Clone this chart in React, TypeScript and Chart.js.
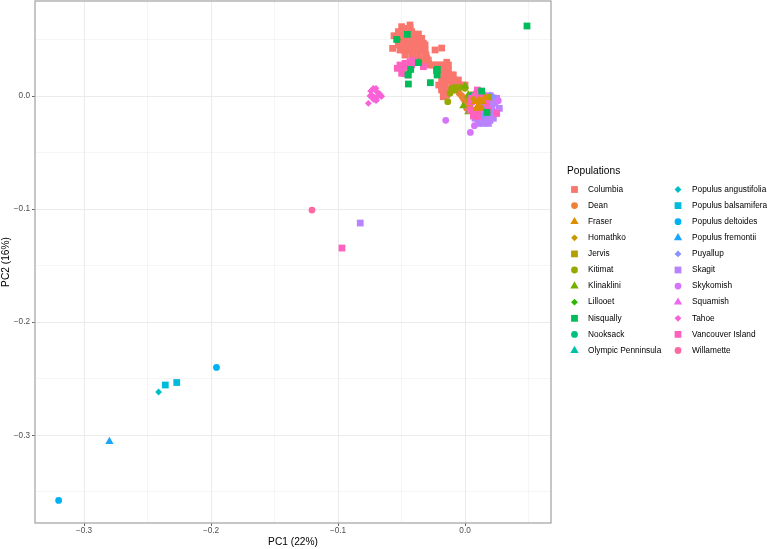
import React, { useEffect, useRef } from "react";
import { Chart, registerables } from "chart.js";
import { drawPoint } from "chart.js/helpers";

Chart.register(...registerables);

const columbia = [[-.0433,.0628],[-.0499,.0613],[-.0559,.0533],[-.0525,.0569],[-.0472,.0584],[-.042,.0569],[-.0367,.0548],[-.0486,.0525],[-.0433,.051],[-.0381,.0495],[-.0341,.051],[-.0499,.0466],[-.0446,.0451],[-.0394,.0451],[-.0328,.0466],[-.057,.0421],[-.0512,.0407],[-.0459,.0407],[-.0407,.0392],[-.0341,.0407],[-.0315,.0377],[-.0302,.0333],[-.0236,.0407],[-.0184,.0424],[-.0367,.0318],[-.0402,.0318],[-.0315,.0304],[-.0289,.0289],[-.0249,.0274],[-.0197,.0274],[-.0144,.0298],[-.015,.023],[-.0223,.0245],[-.0157,.0186],[-.0105,.0186],[-.0079,.0141],[-.0144,.0141],[-.0207,.0097],[-.0105,.0097],[-.0039,.0097],[0,.0097],[-.0171,-.0006],[-.0144,.0053],[-.0066,.0068],[-.0184,.0068],
[-.0472,.0598],[-.0433,.0598],[-.0512,.0539],[-.0472,.0539],[-.0433,.0539],[-.0394,.0539],[-.0525,.0495],[-.0486,.0495],[-.0446,.0495],[-.0407,.0495],[-.0354,.0495],[-.0525,.0451],[-.0472,.0451],[-.042,.0451],[-.0367,.0451],[-.0315,.0451],[-.0486,.0407],[-.0433,.0407],[-.0381,.0407],[-.0315,.0407],[-.0472,.0362],[-.042,.0362],[-.0367,.0362],[-.0307,.0362],[-.0328,.0318],[-.0289,.0318],[-.0276,.0274],[-.0223,.0274],[-.0171,.0274],[-.0131,.0274],[-.0223,.023],[-.0184,.023],[-.0131,.023],[-.0184,.0186],[-.0131,.0186],[-.0092,.0186],[-.0184,.0141],[-.0118,.0141],[-.0052,.0141],[-.0157,.0097],[-.0066,.0097],[-.0184,.0053],[-.0105,.0053],[-.0171,.0009],[-.0144,.0009]];
const dean = [[-.0026,0],[0,-.005],[.0013,-.0109],[-.0045,.0024],[-.0013,-.0021],[.0039,-.008]];
const fraser = [[.0105,-.008],[.0079,-.005],[.0139,-.005],[.0092,-.0109],[.0131,-.0109],[.0113,-.0035],[.0157,-.0012]];
const homathko = [[.0066,-.0024],[.0115,-.0038],[.0095,-.0103]];
const jervis = [[.0052,.0009],[.0026,-.0021],[.0184,-.0012]];
const kitimat = [[-.0136,-.005],[-.0105,.0068],[-.0118,.0024],[-.0079,.0053],[-.0039,.0077],[0,.0068],[-.0079,.0077]];
const klinaklini = [[0,.0088],[-.0013,-.0088],[.0026,-.0139],[.0026,.0009],[.0052,0]];
const lillooet = [[-.053,.0498],[-.0367,.0304],[-.0446,.0206],[.0173,-.0145]];
const nisqually = [[-.0454,.0545],[-.0538,.05],[-.0449,.0186],[-.0428,.0235],[-.0367,.0295],[-.0223,.0224],[-.022,.0186],[-.0218,.0236],[-.0273,.0118],[-.0446,.0106],[.0173,-.0145],[.0131,.0044],[.0488,.0619]];
const nooksack = [[.0055,.0006]];
const olympic = [[.0092,-.0035]];
const angustifolia = [[-.2413,-.2617]];
const balsamifera = [[-.236,-.2555],[-.227,-.2533]];
const deltoides = [[-.32,-.3575],[-.1957,-.24]];
const fremontii = [[-.28,-.3055]];
const puyallup = [[-.049,.0239],[.0145,-.0177],[.0197,.0009],[.0223,-.0006],[.0157,-.0115]];
const skagit = [[-.0491,.0236],[-.0825,-.1123],[.0118,-.0183],[.0144,-.0206],[.0171,-.0218],[.0197,-.0215],[.0131,-.0133],[.0171,-.0133],[.021,-.0133],[.0184,-.0088],[.021,-.0059],[.0223,-.0018],[.0197,.0003],[.0236,-.0044],[.0157,-.0059],[.0131,-.0103],[.0105,-.0151],[.0144,-.0162],[.0184,-.0177],
[.0105,-.0242],[.0144,-.0242],[.0184,-.0242],[.0079,-.0197],[.0131,-.0197],[.0184,-.0197],[.0223,-.0197],[.0144,-.0153],[.0197,-.0153],[.0249,-.0153],[.0157,-.0109],[.021,-.0109],[.027,-.0109],[.0184,-.0065],[.0236,-.0065],[.021,-.0021],[.0249,-.0021]];
const skykomish = [[-.0485,.0197],[-.0152,-.0215],[.0074,-.0262],[.0042,-.0322],[.0262,-.0041],[.0249,-.0139]];
const squamish = [[.0079,.0029]];
const tahoe = [[-.0722,.0068],[-.0761,-.0065],[-.0735,.0009],[-.0696,.0038],[-.0669,.0009],[-.0696,-.0035],[-.071,-.0012],[-.0656,-.0003],[-.0743,.0044],[-.0701,.0068],[-.0675,.0024],[-.0722,-.0029],[-.0691,-.0006],[-.0748,0],[-.0663,0],[-.0701,-.0041]];
const vancouverIsland = [[-.0512,.0274],[-.0472,.0289],[-.0433,.0304],[-.0499,.0201],[-.0446,.0186],[-.0533,.0245],[-.0407,.0312],[-.0328,.0259],[-.0472,.0254],[-.042,.0274],[.0097,.0053],[.0079,0],[.0052,-.005],[.0039,-.0124],[.0066,-.0177],[.0105,-.0183],[.0118,-.0012],[.0171,-.0065],[.0184,-.0124],[.0249,-.0153],[.0079,-.0124],[.0052,-.0021],[.0144,.0009],[.0105,-.0139],[-.0969,-.1344]];
const willamette = [[-.1205,-.1008]];

const names = ["Columbia","Dean","Fraser","Homathko","Jervis","Kitimat","Klinaklini","Lillooet","Nisqually","Nooksack","Olympic Penninsula","Populus angustifolia","Populus balsamifera","Populus deltoides","Populus fremontii","Puyallup","Skagit","Skykomish","Squamish","Tahoe","Vancouver Island","Willamette"];
const seriesValues = [columbia,dean,fraser,homathko,jervis,kitimat,klinaklini,lillooet,nisqually,nooksack,olympic,angustifolia,balsamifera,deltoides,fremontii,puyallup,skagit,skykomish,squamish,tahoe,vancouverIsland,willamette];
const colors = ["#F8766D","#EC8239","#DC8E00","#C99800","#B3A000","#97A900","#72B000","#2FB600","#00BC59","#00BF83","#00C1A7","#00BFC4","#00BBDB","#00B2F3","#1AA6FF","#8993FF","#B983FF","#D575FE","#EE68EC","#FB61D7","#FF62BE","#FF68A1"];
const shapes = ["rect","circle","triangle","rectRot"];
const sizes: Record<string, number> = { rect: 4.8, circle: 3.4, triangle: 4.8, rectRot: 3.4 };
// front-to-back stacking: lower value is painted later
const stacking = [22,14,4,5,12,11,10,2,1,9,8,7,7,7,7,13,17,16,15,15,6,3];
const legendTitle = "Populations";
const legendRows = 11;

const isMajor = (v: number) => Math.abs(v * 10 - Math.round(v * 10)) < 1e-6;

const legendPlugin = {
  id: "twoColumnLegend",
  afterDraw(c: any) {
    const ctx = c.ctx;
    ctx.save();
    ctx.textBaseline = "middle";
    ctx.textAlign = "left";
    ctx.fillStyle = "#000";
    ctx.font = "10.2px 'Liberation Sans'";
    ctx.fillText(legendTitle, 567, 171);
    ctx.font = "8.3px 'Liberation Sans'";
    names.forEach((name, i) => {
      const col = Math.floor(i / legendRows);
      const row = i % legendRows;
      const y = 189.5 + row * 16.1;
      const mx = col === 0 ? 574.5 : 678;
      const s = shapes[i % 4];
      ctx.fillStyle = colors[i];
      drawPoint(ctx, { pointStyle: s, radius: sizes[s], rotation: 0, borderWidth: 0 } as any, mx, y);
      ctx.fillStyle = "#000";
      ctx.fillText(name, col === 0 ? 588 : 692, y);
    });
    ctx.restore();
  },
};

const framePlugin = {
  id: "panelFrame",
  afterDatasetsDraw(c: any) {
    const { left, top, width, height } = c.chartArea;
    const ctx = c.ctx;
    ctx.save();
    ctx.strokeStyle = "#a8a8a8";
    ctx.lineWidth = 1.3;
    ctx.strokeRect(left, top, width, height);
    ctx.restore();
  },
};

const clearScalePadding = (a: any) => {
  a.paddingTop = 0;
  a.paddingBottom = 0;
  a.paddingLeft = 0;
  a.paddingRight = 0;
};

export default function App() {
  const ref = useRef<HTMLCanvasElement>(null);
  useEffect(() => {
    const chart = new Chart(ref.current!, {
      type: "scatter",
      data: {
        datasets: names.map((label, i) => {
          const s = shapes[i % 4];
          return {
            label,
            data: seriesValues[i].map(([x, y]) => ({ x, y })),
            backgroundColor: colors[i],
            borderWidth: 0,
            pointStyle: s,
            pointRadius: sizes[s],
            order: stacking[i],
          };
        }),
      },
      plugins: [framePlugin, legendPlugin],
      options: {
        animation: false,
        responsive: false,
        devicePixelRatio: 1,
        layout: { autoPadding: false, padding: { top: 1, bottom: 0, left: 0, right: 216 } },
        scales: {
          x: {
            type: "linear",
            min: -0.3386,
            max: 0.0677,
            afterBuildTicks(a: any) {
              a.ticks = [-0.3,-0.25,-0.2,-0.15,-0.1,-0.05,0,0.05].map((value) => ({ value }));
            },
            afterFit(a: any) { a.height = 26; clearScalePadding(a); },
            grid: {
              color: "#ebebeb",
              lineWidth: (c: any) => (isMajor(c.tick.value) ? 1 : 0.5),
              tickColor: (c: any) => (isMajor(c.tick.value) ? "#666" : "transparent"),
              tickLength: 3,
              drawTicks: true,
            },
            border: { display: false },
            ticks: {
              autoSkip: false, maxRotation: 0, padding: 0,
              color: "#4d4d4d",
              font: { family: "Liberation Sans", size: 8.2 },
              callback: (v: any) => (isMajor(v) ? Number(v).toFixed(1).replace("-", "\u2212") : ""),
            },
            title: { display: true, text: "PC1 (22%)", color: "#000", font: { family: "Liberation Sans", size: 10.2 }, padding: { top: 0, bottom: 1 } },
          },
          y: {
            type: "linear",
            min: -0.3775,
            max: 0.084,
            afterBuildTicks(a: any) {
              a.ticks = [-0.35,-0.3,-0.25,-0.2,-0.15,-0.1,-0.05,0,0.05].map((value) => ({ value }));
            },
            afterFit(a: any) { a.width = 35; clearScalePadding(a); },
            grid: {
              color: "#ebebeb",
              lineWidth: (c: any) => (isMajor(c.tick.value) ? 1 : 0.5),
              tickColor: (c: any) => (isMajor(c.tick.value) ? "#666" : "transparent"),
              tickLength: 3,
            },
            border: { display: false },
            ticks: {
              autoSkip: false, padding: 2,
              color: "#4d4d4d",
              font: { family: "Liberation Sans", size: 8.2 },
              callback: (v: any) => (isMajor(v) ? Number(v).toFixed(1).replace("-", "\u2212") : ""),
            },
            title: { display: true, text: "PC2 (16%)", color: "#000", font: { family: "Liberation Sans", size: 10.2 }, padding: { top: 0, bottom: 0 } },
          },
        },
        plugins: {
          tooltip: { enabled: false },
          legend: { display: false },
        },
      } as any,
    });
    return () => chart.destroy();
  }, []);
  return (
    <div style={{ position: "fixed", left: 0, top: 0, width: 767, height: 549, background: "#fff" }}>
      <canvas ref={ref} width={767} height={549} style={{ display: "block" }} />
    </div>
  );
}
